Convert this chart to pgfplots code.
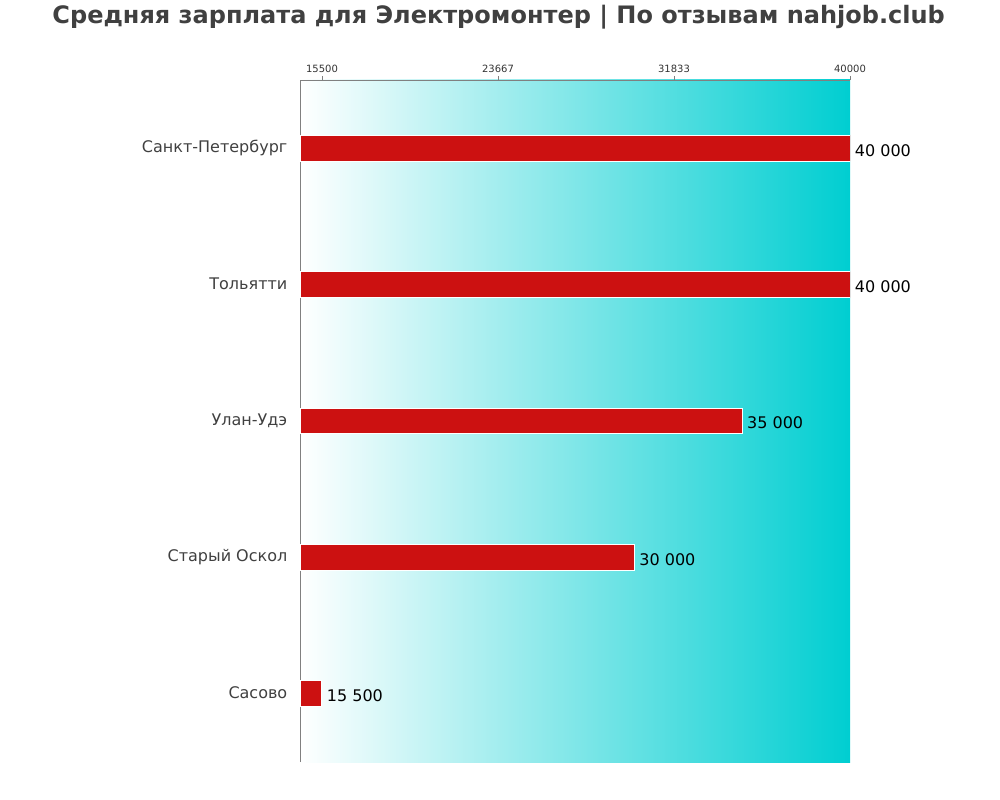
\documentclass[border=0pt]{standalone}
\usepackage{pgfplots}
\pgfplotsset{compat=1.18}
\usepackage{fontspec}
\setmainfont{DejaVu Sans}
\definecolor{barred}{RGB}{204,17,17}
\definecolor{cyanend}{RGB}{0,206,209}
\definecolor{txtgray}{RGB}{64,64,64}
\definecolor{axgray}{RGB}{128,128,128}
\begin{document}
\begin{tikzpicture}[x=1pt,y=1pt]
\node[font=\fontsize{18}{20}\selectfont\bfseries, text=txtgray] at (374,587) {Средняя зарплата для Электромонтер | По отзывам nahjob.club};
\begin{axis}[
  at={(225pt,28.5pt)}, anchor=south west,
  scale only axis, width=412.5pt, height=511.5pt,
  xmin=14480, xmax=40000, ymin=-0.5, ymax=4.5,
  axis x line*=top, axis y line*=left,
  axis line style={axgray, line width=0.6pt},
  axis background/.style={shade, shading=axis, left color=white, right color=cyanend},
  scaled x ticks=false,
  xtick={15500,23667,31833,40000},
  xticklabels={15500,23667,31833,40000},
  xticklabel style={font=\fontsize{7.5}{9}\selectfont, text=black!80, yshift=-1pt},
  tick align=outside,
  x tick style={axgray, line width=0.6pt},
  major tick length=3pt,
  ytick={0,1,2,3,4},
  yticklabels={Сасово, Старый Оскол, Улан-Удэ, Тольятти, Санкт-Петербург},
  y tick style={draw=none},
  yticklabel style={font=\fontsize{12}{14}\selectfont, text=txtgray, xshift=-3pt, yshift=0.5pt},
  xbar, bar width=0.19,
  nodes near coords,
  point meta=explicit symbolic,
  nodes near coords style={font=\fontsize{12}{14}\selectfont, text=black, anchor=west, yshift=-1.5pt},
]
\addplot[fill=barred, draw=white, line width=0.75pt] coordinates {
  (15500,0) [15 500]
  (30000,1) [30 000]
  (35000,2) [35 000]
  (40000,3) [40 000]
  (40000,4) [40 000]
};
\end{axis}
\path (0,0) rectangle (750,600);
\end{tikzpicture}
\end{document}
